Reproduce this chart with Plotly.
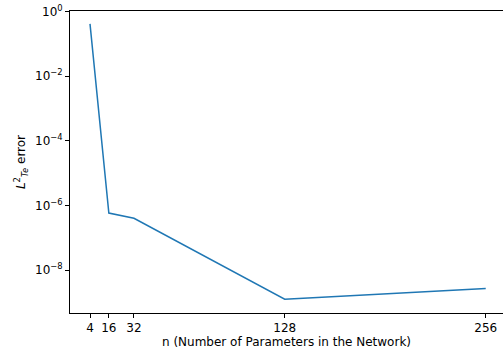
import plotly.graph_objects as go

# Network size vs. L2 error on the Te field
n_params = [4, 16, 32, 128, 256]
l2_error = [4.2e-1, 5.8e-7, 4.0e-7, 1.25e-9, 2.7e-9]

x_ticks = [4, 16, 32, 128, 256]
y_tick_exps = [0, -2, -4, -6, -8]

font = dict(family="DejaVu Sans", size=12, color="black")

fig = go.Figure()
fig.add_trace(go.Scatter(
    x=n_params, y=l2_error, mode="lines",
    line=dict(color="#1f77b4", width=1.5),
    showlegend=False,
))

fig.update_layout(
    width=503, height=352,
    margin=dict(l=70, r=0, t=11, b=39),
    paper_bgcolor="white", plot_bgcolor="white",
    font=font,
    xaxis=dict(
        range=[-8.74, 267.0],
        tickvals=x_ticks, ticktext=[str(v) for v in x_ticks],
        showgrid=False, zeroline=False,
        showline=True, linecolor="black", linewidth=0.8, mirror=True,
        ticks="outside", ticklen=4, tickwidth=0.8, tickcolor="black",
        tickfont=font,
        title=dict(text="n (Number of Parameters in the Network)", font=font, standoff=2),
    ),
    yaxis=dict(
        type="log",
        range=[-9.33, 0.02],
        tickvals=[10.0 ** e for e in y_tick_exps],
        ticktext=["10<sup>%s</sup>" % (str(e).replace("-", "\u2212")) for e in y_tick_exps],
        showgrid=False, zeroline=False,
        showline=True, linecolor="black", linewidth=0.8,
        ticks="outside", ticklen=4, tickwidth=0.8, tickcolor="black",
        tickfont=font,
        title=dict(text="<i>L</i><sup>2</sup><sub><i>Te</i></sub> error", font=font, standoff=6),
    ),
)

fig.write_html("out.html")
